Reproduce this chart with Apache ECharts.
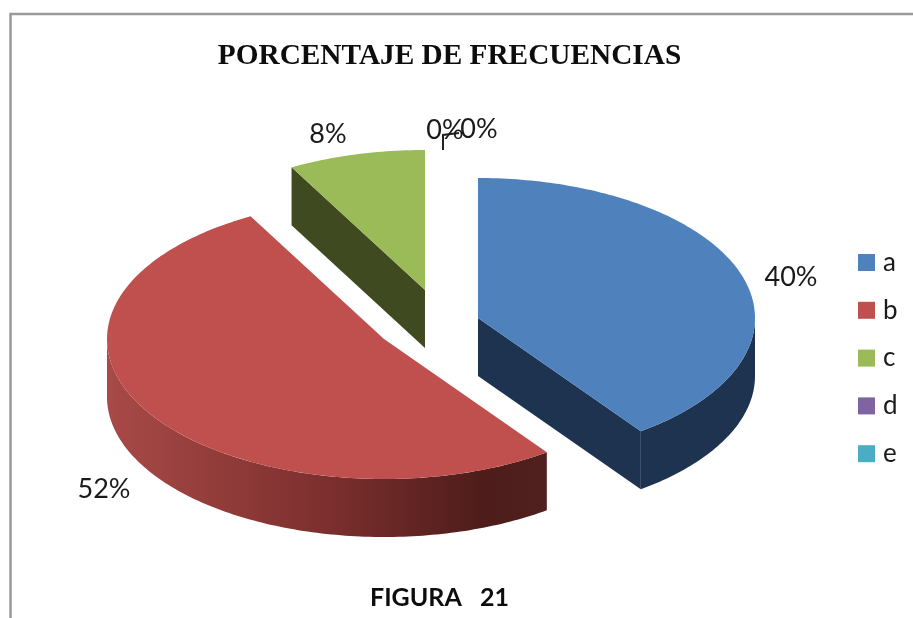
<!DOCTYPE html>
<html>
<head>
<meta charset="utf-8">
<title>Porcentaje de frecuencias</title>
<script src="https://cdn.jsdelivr.net/npm/echarts@6/dist/echarts.min.js"></script>
<style>
html, body { margin: 0; padding: 0; background: #fff; }
#chart { width: 913px; height: 618px; }
</style>
</head>
<body>
<div id="chart"></div>
<script>
var categories = ['a', 'b', 'c', 'd', 'e'];
var frecuencias = [40, 52, 8, 0, 0];
var colores = ['#4f81bd', '#c0504d', '#9bbb59', '#8064a2', '#4bacc6'];
var coloresCara = ['#1e3350', '#4d1f1d', '#3f4a20', '#8064a2', '#4bacc6'];

// pie layout: ellipse, wall height, how far each slice is pulled out
var pieX = 428, pieY = 326, rx = 277, ry = 140, alto = 58;
var pull = [[50, -8], [-44, 13], [-3, -36], [0, 0], [0, 0]];
// where the percent labels sit, relative to the pie centre
var labelPos = [[363, -49], [-324, 163], [-100, -192], [17, -196], [51, -197]];

var total = frecuencias.reduce(function (s, v) { return s + v; }, 0);

function angulos(i) {
    var ini = 0;
    for (var k = 0; k < i; k++) {
        ini += frecuencias[k] / total * 360;
    }
    return [ini, ini + frecuencias[i] / total * 360];
}

function punto(cx, cy, ang) {
    var r = ang * Math.PI / 180;
    return [cx + Math.sin(r) * rx, cy - Math.cos(r) * ry];
}

function arco(cx, cy, a0, a1) {
    var pts = [];
    var n = Math.max(2, Math.ceil(Math.abs(a1 - a0)));
    for (var j = 0; j <= n; j++) {
        pts.push(punto(cx, cy, a0 + (a1 - a0) * j / n));
    }
    return pts;
}

function cara(cx, cy, ang, color) {
    var p = punto(cx, cy, ang);
    return {
        type: 'polygon',
        shape: { points: [[cx, cy], p, [p[0], p[1] + alto], [cx, cy + alto]] },
        style: { fill: color }
    };
}

function makeRender(i) {
    return function (params, api) {
        var valor = api.value(0);
        var hijos = [];
        var a = angulos(i);
        var cx = pieX + pull[i][0], cy = pieY + pull[i][1];
        if (valor > 0) {
            // cut faces, only the ones turned to the viewer
            if (a[0] > 180 && a[0] < 360) hijos.push(cara(cx, cy, a[0], coloresCara[i]));
            if (a[1] > 0 && a[1] < 180) hijos.push(cara(cx, cy, a[1], coloresCara[i]));
            // outer wall, front half of the ellipse
            var w0 = Math.max(a[0], 90), w1 = Math.min(a[1], 270);
            if (w1 > w0) {
                var arriba = arco(cx, cy, w0, w1);
                var abajo = arco(cx, cy + alto, w1, w0);
                hijos.push({
                    type: 'polygon',
                    shape: { points: arriba.concat(abajo) },
                    style: {
                        fill: i === 1 ? new echarts.graphic.LinearGradient(0, 0, 1, 0, [
                            { offset: 0, color: '#a84a47' },
                            { offset: 0.5, color: '#7c2f2e' },
                            { offset: 0.85, color: '#4e1d1b' },
                            { offset: 1, color: '#4f201d' }
                        ]) : coloresCara[i]
                    }
                });
            }
            hijos.push({
                type: 'polygon',
                shape: { points: [[cx, cy]].concat(arco(cx, cy, a[0], a[1])) },
                style: { fill: colores[i] }
            });
        }
        hijos.push({
            type: 'text',
            x: pieX + labelPos[i][0],
            y: pieY + labelPos[i][1],
            style: {
                text: Math.round(valor / total * 100) + '%',
                font: '27px Lato',
                fill: '#1a1a1a',
                align: 'center',
                verticalAlign: 'middle'
            }
        });
        return { type: 'group', children: hijos };
    };
}

var series = categories.map(function (nombre, i) {
    return {
        name: nombre,
        type: 'custom',
        coordinateSystem: 'none',
        silent: true,
        clip: false,
        itemStyle: { color: colores[i] },
        renderItem: makeRender(i),
        data: [[frecuencias[i]]]
    };
});

var myChart = echarts.init(document.getElementById('chart'), null, { renderer: 'canvas' });
myChart.setOption({
    animation: false,
    backgroundColor: '#fff',
    title: [{
        text: 'PORCENTAJE DE FRECUENCIAS',
        left: 444.5,
        top: 37,
        textAlign: 'center',
        textStyle: { fontFamily: 'Liberation Serif', fontWeight: 'bold', fontSize: 29.3, color: '#0d0d0d' }
    }, {
        text: 'FIGURA   21',
        left: 434.5,
        top: 580,
        textAlign: 'center',
        textStyle: { fontFamily: 'Lato', fontWeight: 'bold', fontSize: 25, color: '#0d0d0d' }
    }],
    legend: {
        orient: 'vertical',
        left: 853,
        top: 244,
        itemWidth: 17,
        itemHeight: 17,
        itemGap: 20.8,
        icon: 'rect',
        data: categories,
        selectedMode: false,
        textStyle: { fontFamily: 'Lato', fontSize: 26, color: '#1a1a1a', lineHeight: 17, padding: [10, 0, 0, 3] }
    },
    graphic: [{
        // chart frame
        type: 'polyline',
        shape: { points: [[10.5, 618], [10.5, 14], [913, 14]] },
        style: { stroke: '#9a9a9a', lineWidth: 2.5, fill: 'none' }
    }, {
        // leader line of the zero labels
        type: 'polyline',
        shape: { points: [[443, 150], [443, 135], [459, 133]] },
        style: { stroke: '#222', lineWidth: 2, fill: 'none' }
    }],
    series: series
});
</script>
</body>
</html>
